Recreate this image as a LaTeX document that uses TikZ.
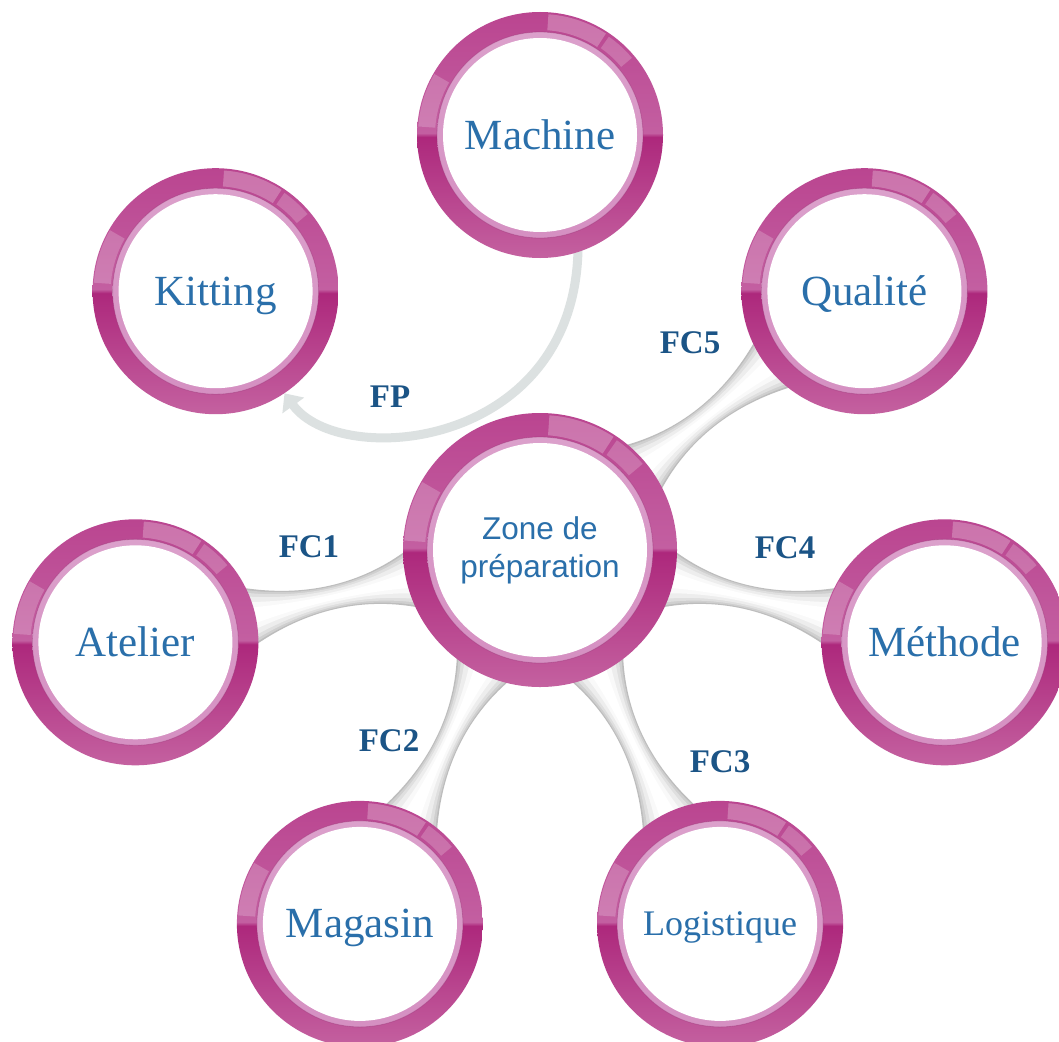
\documentclass[tikz,border=0pt]{standalone}
\usepackage{fontspec}
\setmainfont{Liberation Serif}
\newfontfamily\zsans{Liberation Sans}
\usetikzlibrary{calc,arrows.meta}
\definecolor{rtop}{HTML}{BA4590}
\definecolor{rmid}{HTML}{C35FA1}
\definecolor{rdark}{HTML}{AD287C}
\definecolor{rbot}{HTML}{C461A0}
\definecolor{bandtop}{HTML}{DBA0CB}
\definecolor{bandbot}{HTML}{D590C2}
\definecolor{txtblue}{HTML}{2A6FAA}
\definecolor{lblblue}{HTML}{1B5486}
\definecolor{fpgray}{HTML}{DCE1E1}
\pgfdeclareverticalshading{ringsh}{100bp}{color(0bp)=(rbot); color(25bp)=(rbot); color(49.6bp)=(rdark); color(50.4bp)=(rmid); color(75bp)=(rtop); color(100bp)=(rtop)}
\pgfdeclarelayer{background}
\pgfdeclarelayer{rings}
\pgfsetlayers{background,rings,main}
\newcommand\bone[7]{%
\fill[#7] ($(#1)!#5!(#2)!#3!90:(#2)$)
 .. controls ($(#1)!0.44!(#2)!#4!90:(#2)$) and ($(#1)!0.58!(#2)!#4!90:(#2)$) ..
 ($(#2)!#6!(#1)!#3!-90:(#1)$)
 -- ($(#2)!#6!(#1)!#3!90:(#1)$)
 .. controls ($(#1)!0.58!(#2)!#4!-90:(#2)$) and ($(#1)!0.44!(#2)!#4!-90:(#2)$) ..
 ($(#1)!#5!(#2)!#3!-90:(#2)$) -- cycle;}
\newcommand\ringdeco[3]{%
 \begin{scope}[shift={(#1.center)}]
  \shade[shading=ringsh] (0,0) circle[radius=#2];
  \fill[white,opacity=.2] (150:{#2-1pt}) arc[start angle=150,end angle=176,radius={#2-1pt}] -- (176:{#3+8pt}) arc[start angle=176,end angle=150,radius={#3+8pt}] -- cycle;
  \fill[white,opacity=.25] (57:{#2-2pt}) arc[start angle=57,end angle=86,radius={#2-2pt}] -- (86:{#3+8pt}) arc[start angle=86,end angle=57,radius={#3+8pt}] -- cycle;
  \fill[white,opacity=.2] (40:{#2-3pt}) arc[start angle=40,end angle=55,radius={#2-3pt}] -- (55:{#3+9pt}) arc[start angle=55,end angle=40,radius={#3+9pt}] -- cycle;
  \shade[top color=bandtop,bottom color=bandbot] (0,0) circle[radius={#3+6pt}];
  \draw[rdark!80!black,opacity=.3,line width=.8pt] (0,0) circle[radius={#3+6pt}];
  \fill[white] (0,0) circle[radius=#3];
 \end{scope}}
\tikzset{
 sat/.style={circle, minimum size=246pt, inner sep=0pt, text=txtblue, font=\fontsize{43}{50}\selectfont, text height=28pt, text depth=0pt},
 hub/.style={circle, minimum size=274pt, inner sep=0pt, text=txtblue, font=\zsans\fontsize{31.5}{38}\selectfont, align=center},
 lbl/.style={font=\bfseries\fontsize{33}{38}\selectfont, text=lblblue, inner sep=0pt},
 fparrow/.style={draw=fpgray, line width=9pt, -{Triangle[length=15pt,width=26pt]}, shorten <=-8pt}
}
\begin{document}
\begin{tikzpicture}[x=1pt,y=-1pt]
\useasboundingbox (0,0) rectangle (1059,1041);
\node[hub] (zone) at (540,550) {Zone de\\préparation};
\node[sat] (machine) at (540,135) {Machine};
\node[sat] (kitting) at (215.6,291.2) {Kitting};
\node[sat] (qualite) at (864.4,291.2) {Qualité};
\node[sat] (atelier) at (135.4,642.3) {Atelier};
\node[sat] (methode) at (944.6,642.3) {Méthode};
\node[sat] (magasin) at (359.9,923.9) {Magasin};
\node[sat, font=\fontsize{36}{42}\selectfont, text height=23.8pt] (logistique) at (720.1,923.9) {Logistique};
\node[lbl] (fp) at (390,397) {FP};
\node[lbl] (fc5) at (690,343) {FC5};
\node[lbl] (fc1) at (309,547) {FC1};
\node[lbl] (fc4) at (785,548) {FC4};
\node[lbl] (fc2) at (389,741) {FC2};
\node[lbl] (fc3) at (720,762) {FC3};
\begin{pgfonlayer}{rings}
\ringdeco{zone}{137pt}{107pt}
\foreach \s in {machine,kitting,qualite,atelier,methode,magasin,logistique}{
 \ringdeco{\s}{123pt}{97pt}
}
\end{pgfonlayer}
\begin{pgfonlayer}{background}
\fill[white] (0,0) rectangle (1059,1041);
\foreach \s in {atelier,magasin,logistique,methode,qualite}{
 \bone{zone}{\s}{30pt}{6pt}{129pt}{115pt}{gray!52}
 \bone{zone}{\s}{28pt}{5.2pt}{129pt}{115pt}{gray!38}
 \bone{zone}{\s}{25pt}{4.2pt}{129pt}{115pt}{gray!25}
 \bone{zone}{\s}{21pt}{3pt}{129pt}{115pt}{gray!14}
 \bone{zone}{\s}{15pt}{1.6pt}{129pt}{115pt}{gray!5}
 \bone{zone}{\s}{9pt}{0.6pt}{129pt}{115pt}{white}
}
\draw[fparrow] (machine.-72) .. controls (578,450) and (340,470) .. (kitting.-56);
\end{pgfonlayer}
\end{tikzpicture}
\end{document}
